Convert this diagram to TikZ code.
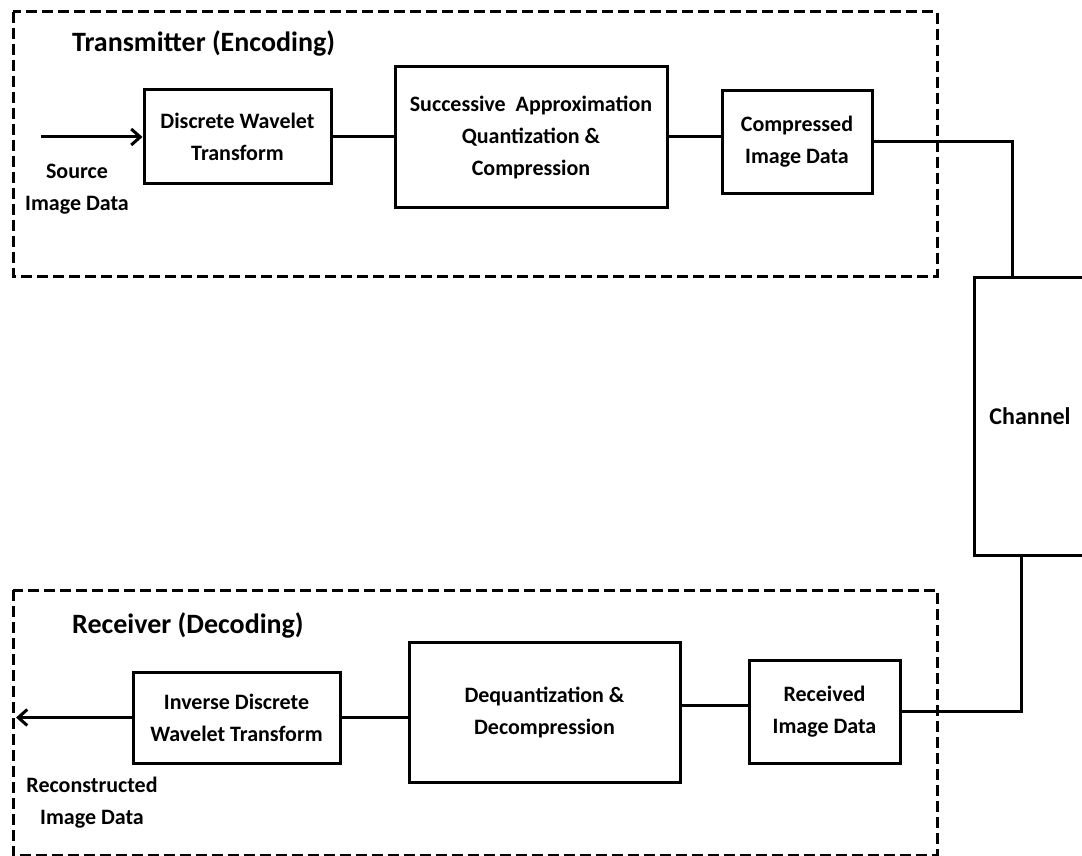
\documentclass[tikz,border=0pt]{standalone}
\usepackage{fontspec}
\setmainfont{Carlito}
\usetikzlibrary{arrows.meta}

\tikzset{
  blockbox/.style={draw, line width=3pt, rectangle, inner sep=0pt, align=center,
    font=\bfseries\fontsize{22}{32}\selectfont},
  frame/.style={draw, line width=3pt, dash pattern=on 11pt off 5pt},
  wire/.style={line width=3pt},
  flowarrow/.style={line width=3pt, -{Straight Barb[length=9pt,width=16pt,line width=3pt]}},
  plain/.style={inner sep=0pt, align=center, font=\bfseries\fontsize{22}{32}\selectfont},
  heading/.style={inner sep=0pt, anchor=west, font=\bfseries\fontsize{28}{32}\selectfont},
}

\begin{document}
\begin{tikzpicture}[x=1pt, y=-1pt]
  \useasboundingbox (0,0) rectangle (1082,856);

  % transmitter and receiver frames
  \draw[frame] (13,12) rectangle (937,276);
  \draw[frame] (13,590) rectangle (937,855);
  \node[heading] (txtitle) at (72,43) {Transmitter (Encoding)};
  \node[heading] (rxtitle) at (72,625) {Receiver (Decoding)};

  % encoder chain
  \node[blockbox, minimum width=187pt, minimum height=94pt] (dwt) at (237.5,137) {Discrete Wavelet\\Transform};
  \node[blockbox, minimum width=272pt, minimum height=140pt] (saq) at (531,137) {Successive~ Approximation\\Quantization \&\\Compression};
  \node[blockbox, minimum width=150pt, minimum height=102pt] (comp) at (797,142) {Compressed\\Image Data};

  % channel (runs past the right edge)
  \node[draw, line width=3pt, rectangle, inner sep=0pt, minimum width=136pt, minimum height=278pt] (ch) at (1042,416) {};
  \node[plain, font=\bfseries\fontsize{24}{32}\selectfont] (chlabel) at (1030,416) {Channel};

  % decoder chain
  \node[blockbox, minimum width=151pt, minimum height=103pt] (rec) at (824.5,711.5) {Received\\Image Data};
  \node[blockbox, minimum width=271pt, minimum height=140pt] (deq) at (544.5,712) {Dequantization \&\\Decompression};
  \node[blockbox, minimum width=207pt, minimum height=91pt] (idwt) at (236.5,717.5) {Inverse Discrete\\Wavelet Transform};

  % free ends and captions
  \coordinate (src) at (41,137);
  \coordinate (dst) at (16,717.5);
  \node[plain] (srclabel) at (77,189) {Source\\Image Data};
  \node[plain] (dstlabel) at (92,803) {Reconstructed\\Image Data};

  % connections
  \draw[flowarrow] (src) -- (dwt.west);
  \draw[wire] (dwt.east) -- (saq.west);
  \draw[wire] (saq.east) -- (saq.east -| comp.west);
  \draw[wire] (comp.east) -| ([xshift=-30pt]ch.north);
  \draw[wire] ([xshift=-21pt]ch.south) |- (rec.east);
  \draw[wire] ([yshift=6.5pt]rec.west) -- ([yshift=6.5pt]rec.west -| deq.east);
  \draw[wire] (idwt.east) -- (idwt.east -| deq.west);
  \draw[flowarrow] (idwt.west) -- (dst);
\end{tikzpicture}
\end{document}
